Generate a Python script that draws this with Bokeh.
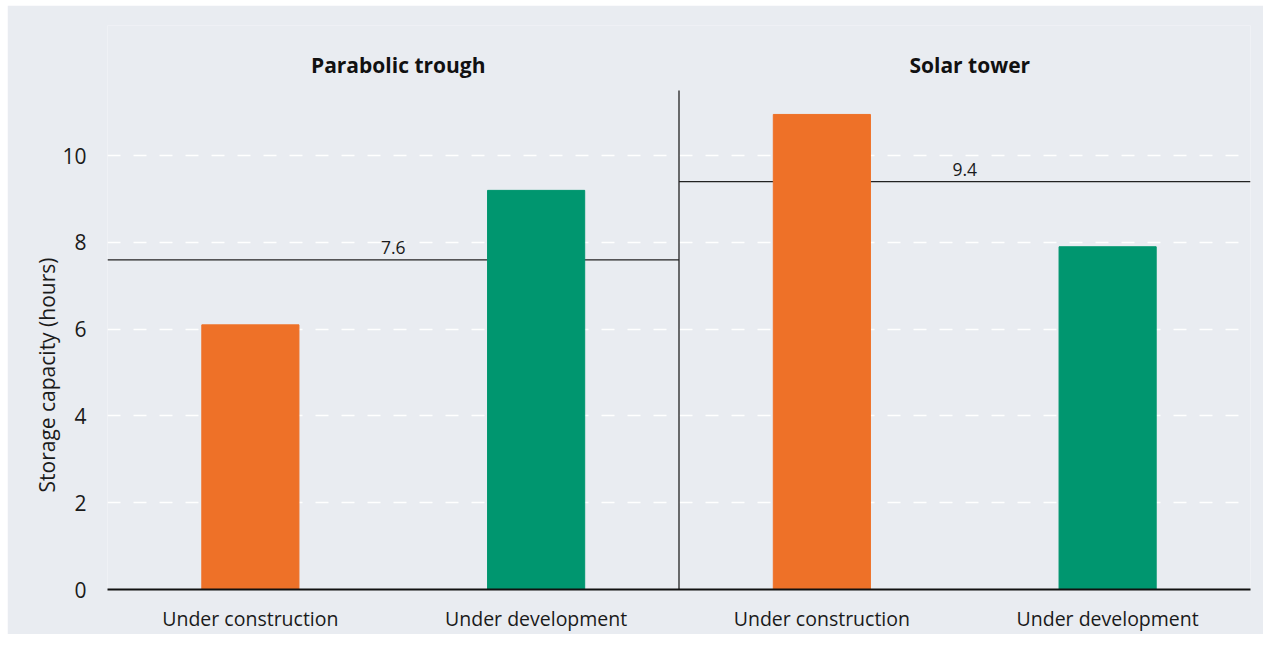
from bokeh.plotting import figure
from bokeh.models import FixedTicker, Range1d, ColumnDataSource, Title
from bokeh.embed import file_html
from bokeh.resources import INLINE
from bokeh.core.properties import value

# ---- data ----
technologies = ["Parabolic trough", "Solar tower"]
statuses = ["Under construction", "Under development"]
parabolic_trough = [6.1, 9.2]
solar_tower = [10.95, 7.9]
averages = [7.6, 9.4]
y_ticks = [0, 2, 4, 6, 8, 10]
y_title = "Storage capacity (hours)"
status_colors = ["#EE7128", "#00966F"]

FONT = "Open Sans"
BG = "#E9ECF1"
TXT = "#1a1a1a"

# ---- derived tables ----
groups = [parabolic_trough, solar_tower]
bar_x, bar_top, bar_color, tick_pos, tick_lab = [], [], [], [], []
for g, vals in enumerate(groups):
    for s, v in enumerate(vals):
        idx = g * len(statuses) + s
        bar_x.append(idx + 0.5)
        bar_top.append(v)
        bar_color.append(status_colors[s])
        tick_pos.append(idx + 0.5)
        tick_lab.append(statuses[s])

n = len(statuses)
bars = ColumnDataSource(dict(x=bar_x, top=bar_top, color=bar_color))
avg_src = ColumnDataSource(dict(
    x0=[g * n for g in range(len(technologies))],
    x1=[(g + 1) * n for g in range(len(technologies))],
    xc=[g * n + n / 2 for g in range(len(technologies))],
    y=averages,
    label=[f"{a:.1f}" for a in averages],
))
title_src = ColumnDataSource(dict(
    x=[g * n + n / 2 for g in range(len(technologies))],
    y=[12.1] * len(technologies),
    text=technologies,
))

p = figure(width=1256, height=629, output_backend="svg", toolbar_location=None,
           x_range=Range1d(0, len(bar_x)), y_range=Range1d(0, 13),
           min_border_left=100, min_border_right=13, min_border_top=20,
           min_border_bottom=40)
p.margin = (5, 0, 0, 7)
p.background_fill_color = BG
p.border_fill_color = BG
p.outline_line_color = None

# grid
p.xgrid.grid_line_color = None
p.ygrid.ticker = FixedTicker(ticks=y_ticks)
p.ygrid.grid_line_color = "white"
p.ygrid.grid_line_width = 1.5
p.ygrid.grid_line_dash = "13 13"

# average lines (behind bars)
p.segment(x0="x0", x1="x1", y0="y", y1="y", source=avg_src,
          line_color="#222222", line_width=1.3)
p.text(x="xc", y="y", text="label", source=avg_src, text_align="center",
       text_baseline="bottom", y_offset=-6, text_font=value(FONT),
       text_font_size="17.5px", text_color=TXT)

# bars
p.vbar(x="x", top="top", width=0.34, bottom=0, color="color", source=bars)

# divider between groups
p.segment(x0=[n], x1=[n], y0=[0], y1=[11.5], line_color="#222222", line_width=1.3)

# group titles
p.text(x="x", y="y", text="text", source=title_src, text_align="center",
       text_baseline="middle", x_offset=5, text_font=value(FONT),
       text_font_size="21px", text_font_style="bold", text_color="#111111")

# axes
xa = p.xaxis[0]
xa.ticker = FixedTicker(ticks=tick_pos)
xa.major_label_overrides = {t: l for t, l in zip(tick_pos, tick_lab)}
xa.major_tick_line_color = None
xa.minor_tick_line_color = None
xa.axis_line_color = "#111111"
xa.axis_line_width = 2
xa.major_label_text_font = FONT
xa.major_label_text_font_size = "19.5px"
xa.major_label_text_color = TXT
xa.major_label_standoff = 9

ya = p.yaxis[0]
ya.ticker = FixedTicker(ticks=y_ticks)
ya.axis_line_color = None
ya.major_tick_line_color = None
ya.minor_tick_line_color = None
ya.major_label_text_font = FONT
ya.major_label_text_font_size = "21px"
ya.major_label_text_color = TXT
ya.major_label_standoff = 15

# y-axis title, placed lower than the frame centre as in the original
p.add_layout(Title(text=y_title, align="left", offset=97, standoff=-3,
                   text_font=FONT, text_font_size="21px",
                   text_font_style="normal", text_color=TXT), "left")

open("out.html", "w").write(file_html(p, INLINE))
